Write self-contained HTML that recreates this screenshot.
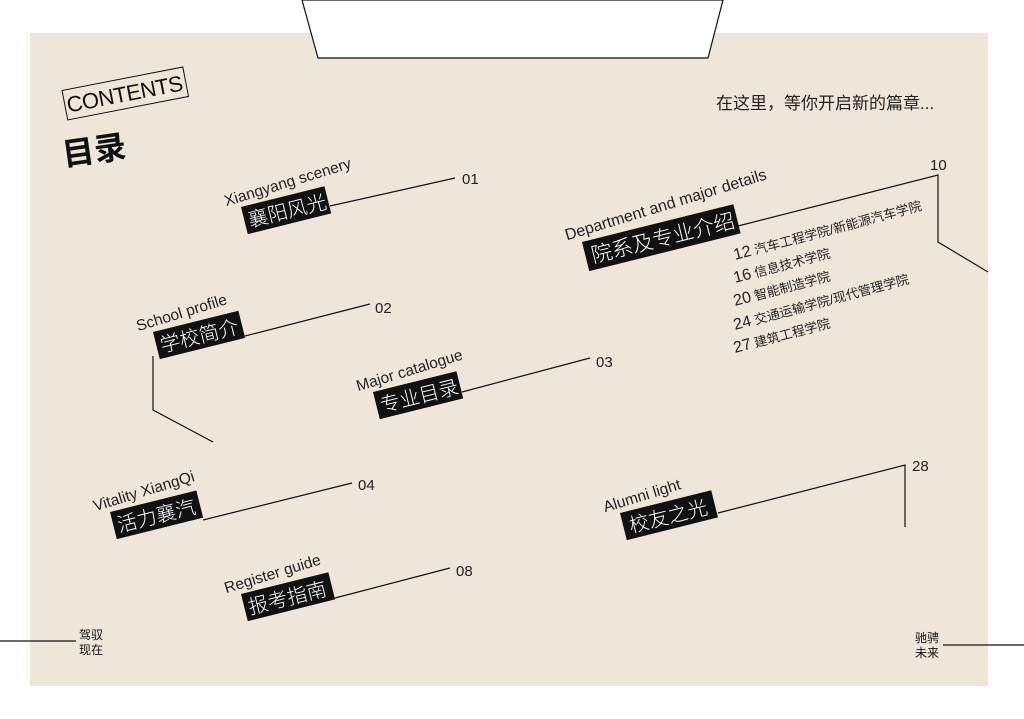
<!DOCTYPE html>
<html><head><meta charset="utf-8"><style>
html,body{margin:0;padding:0;background:#fff;}
svg{display:block;}
text{font-family:"Liberation Sans","Noto Sans CJK SC",sans-serif;}
.en{font-size:15.5px;fill:#222;font-weight:300;}
.cn{font-size:20px;fill:#fff;font-weight:300;}
.num{font-size:15px;fill:#222;}
.l{stroke:#111;stroke-width:1.2;fill:none;}
</style></head><body>
<svg width="1024" height="719" viewBox="0 0 1024 719">
<rect x="30" y="33" width="958" height="653" fill="#efe6da"/>
<polygon points="302,0 723,0 708,58 318,58" fill="#fff" stroke="#111" stroke-width="1.2"/>

<g transform="translate(67,116) rotate(-11)">
<rect x="0" y="-26" width="123" height="30" fill="none" stroke="#111" stroke-width="1"/>
<text x="2" y="-3" font-size="22" fill="#111" textLength="118">CONTENTS</text>
</g>
<text x="64" y="166" font-size="32" font-weight="bold" fill="#111" transform="rotate(-8 64 166)">目录</text>
<text x="716" y="109" font-size="17" fill="#222">在这里，等你开启新的篇章...</text>

<!-- 1 -->
<g transform="translate(241,207) rotate(-14)"><text class="en" x="-14" y="-5" transform="rotate(-3)">Xiangyang scenery</text><rect x="0" y="0" width="86" height="28" fill="#111"/><text class="cn" x="4" y="22">襄阳风光</text></g>
<path class="l" d="M330,206 L455,178"/><text class="num" x="462" y="184">01</text>
<!-- 2 -->
<g transform="translate(153,332) rotate(-14)"><text class="en" x="-14" y="-5" transform="rotate(-3)">School profile</text><rect x="0" y="0" width="88" height="28" fill="#111"/><text class="cn" x="4" y="22">学校简介</text></g>
<path class="l" d="M245,336 L370,304"/><text class="num" x="375" y="313">02</text>
<path class="l" d="M153,356 L153,410 L213,442"/>
<!-- 3 -->
<g transform="translate(373,392) rotate(-14)"><text class="en" x="-14" y="-5" transform="rotate(-3)">Major catalogue</text><rect x="0" y="0" width="86" height="28" fill="#111"/><text class="cn" x="4" y="22">专业目录</text></g>
<path class="l" d="M462,392 L590,358"/><text class="num" x="596" y="367">03</text>
<!-- 4 -->
<g transform="translate(110,512) rotate(-14)"><text class="en" x="-14" y="-5" transform="rotate(-3)">Vitality XiangQi</text><rect x="0" y="0" width="89" height="28" fill="#111"/><text class="cn" x="4" y="22">活力襄汽</text></g>
<path class="l" d="M203,520 L352,483"/><text class="num" x="358" y="490">04</text>
<!-- 5 -->
<g transform="translate(241,594) rotate(-14)"><text class="en" x="-14" y="-5" transform="rotate(-3)">Register guide</text><rect x="0" y="0" width="90" height="28" fill="#111"/><text class="cn" x="4" y="22">报考指南</text></g>
<path class="l" d="M335,598 L450,568"/><text class="num" x="456" y="576">08</text>
<!-- 6 -->
<g transform="translate(582,242) rotate(-14)"><text class="en" x="-14" y="-6" transform="rotate(-3)" style="font-size:16px">Department and major details</text><rect x="0" y="0" width="156" height="30" fill="#111"/><text class="cn" x="6" y="23" style="font-size:21px">院系及专业介绍</text></g>
<path class="l" d="M738,226 L938,175 L938,242 L988,272"/><text class="num" x="930" y="170">10</text>
<g font-size="13" fill="#222">
<g transform="translate(735,260) rotate(-15)"><text><tspan font-size="16">12</tspan> 汽车工程学院/新能源汽车学院</text></g>
<g transform="translate(735,283) rotate(-15)"><text><tspan font-size="16">16</tspan> 信息技术学院</text></g>
<g transform="translate(735,306) rotate(-15)"><text><tspan font-size="16">20</tspan> 智能制造学院</text></g>
<g transform="translate(735,330) rotate(-15)"><text><tspan font-size="16">24</tspan> 交通运输学院/现代管理学院</text></g>
<g transform="translate(735,353) rotate(-15)"><text><tspan font-size="16">27</tspan> 建筑工程学院</text></g>
</g>
<!-- 7 -->
<g transform="translate(620,513) rotate(-14)"><text class="en" x="-14" y="-5" transform="rotate(-3)">Alumni light</text><rect x="0" y="0" width="94" height="28" fill="#111"/><text class="cn" x="6" y="22">校友之光</text></g>
<path class="l" d="M718,513 L905,465 L905,527"/><text class="num" x="912" y="471">28</text>

<path class="l" d="M0,641 L76,641"/>
<text x="79" y="639" font-size="12" fill="#111">驾驭</text><text x="79" y="654" font-size="12" fill="#111">现在</text>
<path class="l" d="M943,645 L1024,645"/>
<text x="915" y="642" font-size="12" fill="#111">驰骋</text><text x="915" y="657" font-size="12" fill="#111">未来</text>
</svg>
</body></html>
